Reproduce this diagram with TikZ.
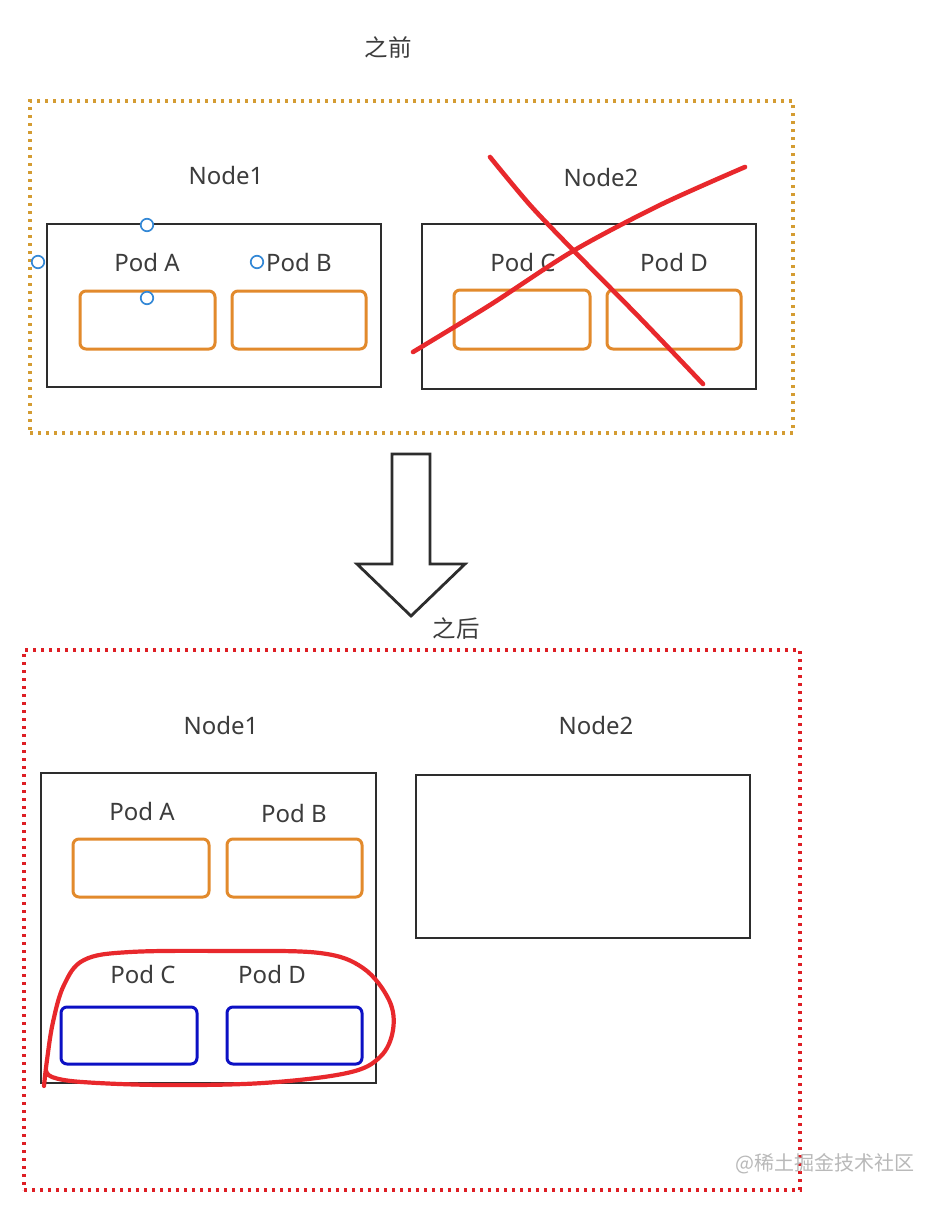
\documentclass[tikz,border=0pt]{standalone}
\usepackage{fontspec}
\setmainfont{Noto Sans}
\newfontfamily\cjk{Noto Sans CJK SC}
\definecolor{txt}{RGB}{60,60,60}
\definecolor{frameorange}{RGB}{212,156,50}
\definecolor{podorange}{RGB}{226,138,44}
\definecolor{framered}{RGB}{222,30,36}
\definecolor{inkred}{RGB}{232,40,44}
\definecolor{podblue}{RGB}{12,16,196}
\definecolor{handle}{RGB}{52,136,214}
\definecolor{boxgray}{RGB}{45,45,45}
\definecolor{wm}{RGB}{185,185,185}
\tikzset{
  lbl/.style={text=txt, font=\fontsize{24}{28}\selectfont, inner sep=0pt},
  cjklbl/.style={text=txt, font=\cjk\fontsize{23.5}{28}\selectfont, inner sep=0pt},
  nodebox/.style={draw=boxgray, line width=2.8pt, inner sep=0pt},
  podbox/.style={draw=podorange, line width=3pt, rounded corners=6pt, inner sep=0pt, minimum height=58pt},
  bluepod/.style={draw=podblue, line width=3pt, rounded corners=6pt, inner sep=0pt, minimum height=57pt},
  dotframe/.style={line width=3.2pt, dash pattern=on 3pt off 5pt, inner sep=0pt},
  handlept/.style={circle, draw=handle, fill=white, line width=1.7pt, minimum size=12.5pt, inner sep=0pt},
  ink/.style={draw=inkred, line width=4.6pt, line cap=round, line join=round}
}
\begin{document}
\begin{tikzpicture}[x=1pt,y=-1pt]
\useasboundingbox[fill=white] (0,0) rectangle (943,1208);

% ---------- before ----------
\node[cjklbl] (before) at (388,47) {之前};
\node[dotframe, draw=frameorange, minimum width=763pt, minimum height=332pt] (frameA) at (411.5,267) {};

\node[lbl] (n1lblA) at (226,175) {Node1};
\node[nodebox, minimum width=334pt, minimum height=163pt] (n1A) at (214,305.5) {};
\node[lbl] (paA) at (147,262) {Pod A};
\node[lbl] (pbA) at (299,262) {Pod B};
\node[podbox, minimum width=135pt] (podAA) at (147.5,320) {};
\node[podbox, minimum width=134pt] (podBA) at (299,320) {};

\node[handlept] (h1) at (147,225) {};
\node[handlept] (h2) at (38,262) {};
\node[handlept] (h3) at (147,298) {};
\node[handlept] (h4) at (257,262) {};

\node[lbl] (n2lblA) at (601,177) {Node2};
\node[nodebox, minimum width=334pt, minimum height=165pt] (n2A) at (589,306.5) {};
\node[lbl] (pcA) at (523,262) {Pod C};
\node[lbl] (pdA) at (674,262) {Pod D};
\node[podbox, minimum width=136pt, minimum height=59pt] (podCA) at (522,319.5) {};
\node[podbox, minimum width=134pt, minimum height=59pt] (podDA) at (674,319.5) {};

% red cross
\draw[ink] plot[smooth] coordinates {(490,157) (530,205) (573,250) (640,318) (703,384)};
\draw[ink] plot[smooth] coordinates {(413,352) (490,305) (573,251) (660,205) (745,167)};

% ---------- arrow ----------
\draw[draw=boxgray, line width=2.8pt, line join=miter, fill=white]
  (392,454) -- (430,454) -- (430,564) -- (465,564) -- (411,616) -- (357,564) -- (392,564) -- cycle;
\node[cjklbl] (after) at (456,629) {之后};

% ---------- after ----------
\node[dotframe, draw=framered, minimum width=776pt, minimum height=540pt] (frameB) at (412,920) {};

\node[lbl] (n1lblB) at (221,725) {Node1};
\node[nodebox, minimum width=335pt, minimum height=310pt] (n1B) at (208.5,928) {};
\node[lbl] (paB) at (142,811) {Pod A};
\node[lbl] (pbB) at (294,813) {Pod B};
\node[podbox, minimum width=136pt] (podAB) at (141,868) {};
\node[podbox, minimum width=135pt] (podBB) at (294.5,868) {};

\node[lbl] (pcB) at (143,974) {Pod C};
\node[lbl] (pdB) at (272,974) {Pod D};
\node[bluepod, minimum width=136pt] (podCB) at (129,1035.5) {};
\node[bluepod, minimum width=135pt] (podDB) at (294.5,1035.5) {};

\node[lbl] (n2lblB) at (596,725) {Node2};
\node[nodebox, minimum width=334pt, minimum height=163pt] (n2B) at (583,856.5) {};

% red loop
\draw[ink, line width=4.2pt] plot[smooth, tension=0.6] coordinates {
  (44,1086) (47,1060) (53,1022) (64,985) (84,960) (130,952) (230,951) (320,953)
  (363,968) (389,1000) (393,1030) (380,1057) (347,1073) (263,1083) (163,1085)
  (82,1082) (52,1077) (46,1070)};

% watermark
\node[text=wm, font=\cjk\fontsize{20}{24}\selectfont, inner sep=0pt] (wmark) at (825,1164) {@稀土掘金技术社区};
\end{tikzpicture}
\end{document}
